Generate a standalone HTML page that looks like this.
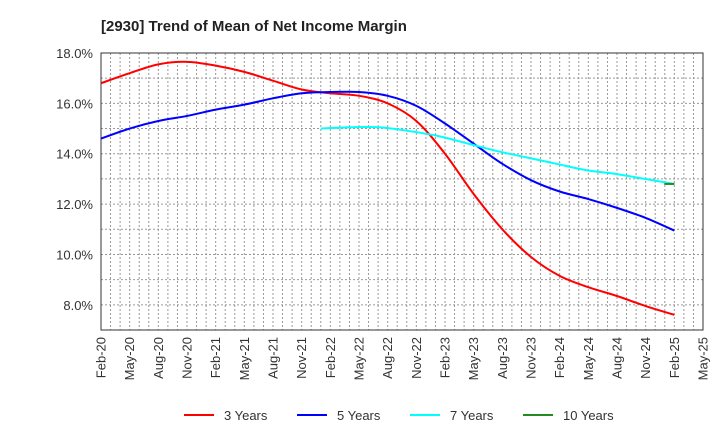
<!DOCTYPE html>
<html><head><meta charset="utf-8"><style>
body{margin:0;background:#fff;font-family:"Liberation Sans",sans-serif}
svg text{font-family:"Liberation Sans",sans-serif}
</style></head><body>
<svg id="chart" width="720" height="440" xmlns="http://www.w3.org/2000/svg">
<text x="101" y="31" font-size="15" font-weight="bold" fill="#222">[2930]  Trend of Mean of Net Income Margin</text>
<g id="grid"></g><g id="axes"></g><g id="series"></g><g id="legend"></g>
</svg>
<script>
const xLabels=["Feb-20","May-20","Aug-20","Nov-20","Feb-21","May-21","Aug-21","Nov-21","Feb-22","May-22","Aug-22","Nov-22","Feb-23","May-23","Aug-23","Nov-23","Feb-24","May-24","Aug-24","Nov-24","Feb-25","May-25"];
const yTicks=[8,10,12,14,16,18];
const s3=[16.8,17.2,17.55,17.65,17.5,17.25,16.9,16.55,16.4,16.3,16.0,15.3,14.0,12.4,11.0,9.9,9.15,8.7,8.35,7.95,7.6];
const s5=[14.6,15.0,15.3,15.5,15.75,15.95,16.2,16.4,16.45,16.45,16.3,15.9,15.2,14.4,13.6,12.95,12.5,12.2,11.85,11.45,10.95];
const s7=[15.0,15.05,15.05,14.9,14.7,14.4,14.1,13.85,13.6,13.35,13.2,13.0,12.8];
const s7Start=7.67;
const s10=[12.8];
const s10Start=20;
const L=101,R=703,T=53,B=330,yMin=7,yMax=18;
const NS="http://www.w3.org/2000/svg";
function X(i){return L+(R-L)*i/21;}
function Y(v){return B-(v-yMin)/(yMax-yMin)*(B-T);}
function mk(tag,attrs,parent){const e=document.createElementNS(NS,tag);for(const k in attrs)e.setAttribute(k,attrs[k]);parent.appendChild(e);return e;}
const grid=document.getElementById('grid'),axes=document.getElementById('axes'),series=document.getElementById('series'),legend=document.getElementById('legend');
for(let m=1;m<63;m++){const x=L+(R-L)*m/63;const g=mk('line',{x1:x,x2:x,y1:T,y2:B,stroke:'#999','stroke-width':1,'stroke-dasharray':'2,2'},grid);

}
for(let v=8;v<18;v+=1){const y=Y(v);const g=mk('line',{x1:L,x2:R,y1:y,y2:y,stroke:'#999','stroke-width':1,'stroke-dasharray':'2,2'},grid);

}
const fr=mk('rect',{x:L,y:T,width:R-L,height:B-T,fill:'none',stroke:'#333','stroke-width':1},axes);


yTicks.forEach(v=>{const t=mk('text',{x:L-8,y:Y(v)+5,'text-anchor':'end','font-size':13,fill:'#333'},axes);t.textContent=v.toFixed(1)+'%';

});
xLabels.forEach((s,i)=>{const x=X(i);const t=mk('text',{x:0,y:0,'text-anchor':'end','font-size':13,fill:'#333',transform:`translate(${x+4.5},${B+7}) rotate(-90)`},axes);t.textContent=s;

});
function path(pts){let d=`M${pts[0][0]},${pts[0][1]}`;for(let i=0;i<pts.length-1;i++){const p0=pts[i-1]||pts[i],p1=pts[i],p2=pts[i+1],p3=pts[i+2]||p2;
d+=` C${p1[0]+(p2[0]-p0[0])/6},${p1[1]+(p2[1]-p0[1])/6} ${p2[0]-(p3[0]-p1[0])/6},${p2[1]-(p3[1]-p1[1])/6} ${p2[0]},${p2[1]}`;}return d;}
function draw(arr,start,color,name){let pts=arr.map((v,i)=>[X(start+i*(arr.length>1?(20-start)/(arr.length-1):1)),Y(v)]);if(pts.length===1)pts=[[pts[0][0]-10,pts[0][1]],[pts[0][0],pts[0][1]]];
const p=mk('path',{d:path(pts),fill:'none',stroke:color,'stroke-width':2},series);

}
draw(s3,0,'#ff0000','line-3-years');
draw(s5,0,'#0000ff','line-5-years');
draw(s7,s7Start,'#00ffff','line-7-years');
draw(s10,s10Start,'#228b22','line-10-years');
[['3 Years','#ff0000',184],['5 Years','#0000ff',297],['7 Years','#00ffff',410],['10 Years','#228b22',523]].forEach(([n,c,x])=>{
const l=mk('line',{x1:x,x2:x+30,y1:415,y2:415,stroke:c,'stroke-width':2},legend);


const t=mk('text',{x:x+40,y:420,'font-size':13,fill:'#333'},legend);t.textContent=n;

});
</script>
</body></html>
